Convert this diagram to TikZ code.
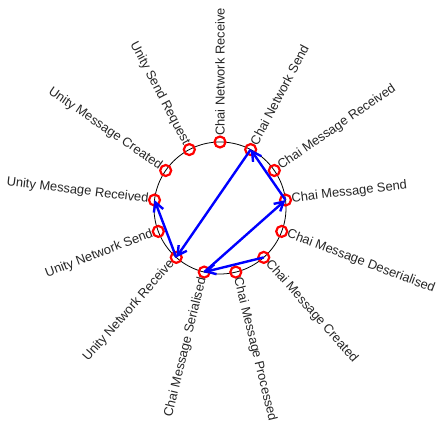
\documentclass[tikz,border=0pt]{standalone}
\usepackage{fontspec}
\setmainfont{Liberation Sans}
\usetikzlibrary{arrows.meta,calc}
\begin{document}
\begin{tikzpicture}[x=1pt,y=1pt,
  ev/.style={circle, draw=red, line width=2.2pt, minimum size=11pt, inner sep=0pt},
  lbl/.style={inner sep=0pt, font=\fontsize{12.9}{15}\selectfont, text=black!85},
  flow/.style={draw=blue, line width=2.4pt, -{Straight Barb[length=9pt,width=10pt]}}]
\useasboundingbox (0,0) rectangle (436,425);
\coordinate (c) at (220,217);
\draw[line width=0.8pt] (c) circle (66);
\foreach \k/\txt in {0/Chai Network Receive, 1/Chai Network Send, 2/Chai Message Received,
  3/Chai Message Send, 4/Chai Message Deserialised, 5/Chai Message Created,
  6/Chai Message Processed, 7/Chai Message Serialised, 8/Unity Network Receive,
  9/Unity Network Send, 10/Unity Message Received, 11/Unity Message Created,
  12/Unity Send Request} {
  \pgfmathsetmacro\a{90-\k*360/13}
  \node[ev] (n\k) at ($(c)+(\a:66)$) {};
  \ifnum\k<7
    \node[lbl, anchor=west, rotate=\a] (l\k) at ($(c)+(\a:72)$) {\txt};
  \else
    \node[lbl, anchor=east, rotate=\a+180] (l\k) at ($(c)+(\a:72)$) {\txt};
  \fi
}
\draw[flow] (n3.center) -- (n1.center);
\draw[flow] (n1.center) -- (n8.center);
\draw[flow] (n8.center) -- (n10.center);
\draw[flow] (n5.center) -- (n7.center);
\draw[flow] (n7.center) -- (n3.center);
\end{tikzpicture}
\end{document}
